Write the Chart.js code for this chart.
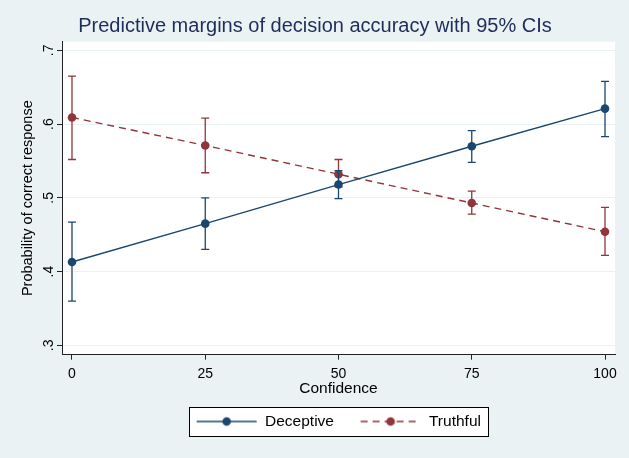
<!DOCTYPE html>
<html>
<head>
<meta charset="utf-8">
<title>Predictive margins of decision accuracy</title>
<script src="https://cdn.jsdelivr.net/npm/chart.js@4.4.1/dist/chart.umd.min.js"></script>
<style>
  html, body { margin: 0; padding: 0; background: #eaf2f3; }
  #wrap { width: 629px; height: 458px; }
</style>
</head>
<body>
<div id="wrap"><canvas id="chart" width="629" height="458"></canvas></div>
<script>
// Values
const confidence = [0, 25, 50, 75, 100];

const deceptive   = [0.413, 0.465, 0.518, 0.570, 0.621];
const deceptiveLo = [0.360, 0.430, 0.499, 0.548, 0.583];
const deceptiveHi = [0.467, 0.500, 0.537, 0.591, 0.658];

const truthful   = [0.609, 0.571, 0.532, 0.493, 0.454];
const truthfulLo = [0.552, 0.534, 0.515, 0.478, 0.422];
const truthfulHi = [0.665, 0.608, 0.552, 0.509, 0.487];

const seriesNames = ['Deceptive', 'Truthful'];
const xTicks = [0, 25, 50, 75, 100];
const yTicks = [0.3, 0.4, 0.5, 0.6, 0.7];

const NAVY = '#1a476f';
const MAROON = '#90353b';
const AXIS = '#222222';
const GRID = '#eaf2f3';
const FONT = "'Liberation Sans', Arial, Helvetica, sans-serif";

const ciLow = [deceptiveLo, truthfulLo];
const ciHigh = [deceptiveHi, truthfulHi];

Chart.defaults.font.family = FONT;
Chart.defaults.color = '#000';

// Legend key: line with a marker in the middle
function makeKey(color, dash) {
    const c = document.createElement('canvas');
    c.width = 64;
    c.height = 16;
    const g = c.getContext('2d');
    g.strokeStyle = color;
    g.lineWidth = 1.4;
    g.setLineDash(dash);
    g.beginPath();
    g.moveTo(2, 8);
    g.lineTo(62, 8);
    g.stroke();
    g.setLineDash([]);
    g.fillStyle = color;
    g.beginPath();
    g.arc(32, 8, 4.3, 0, Math.PI * 2);
    g.fill();
    return c;
}
const legendKeys = [makeKey(NAVY, []), makeKey(MAROON, [7, 5])];

// Fill plot region white and draw the legend frame
const backdrop = {
    id: 'backdrop',
    beforeDraw(chart) {
        const ctx = chart.ctx;
        const a = chart.chartArea;
        ctx.save();
        ctx.fillStyle = '#ffffff';
        ctx.fillRect(a.left, a.top, a.right - a.left, a.bottom - a.top);

        const hb = chart.legend.legendHitBoxes;
        if (hb && hb.length) {
            const last = hb[hb.length - 1];
            const l = Math.round(hb[0].left - 7) + 0.5;
            const r = Math.round(last.left + last.width + 7) + 0.5;
            const t = Math.round(hb[0].top - 7) + 0.5;
            const b = Math.round(hb[0].top + hb[0].height + 7) + 0.5;
            ctx.fillRect(l, t, r - l, b - t);
            ctx.strokeStyle = '#000';
            ctx.lineWidth = 1;
            ctx.strokeRect(l, t, r - l, b - t);
        }
        ctx.restore();
    }
};

// 95% CI whiskers, drawn under each series
const whiskers = {
    id: 'whiskers',
    beforeDatasetDraw(chart, args) {
        const i = args.index;
        const ds = chart.data.datasets[i];
        const xs = chart.scales.x;
        const ys = chart.scales.y;
        const ctx = chart.ctx;
        ctx.save();
        ctx.strokeStyle = ds.borderColor;
        ctx.lineWidth = 1.3;
        confidence.forEach((c, j) => {
            const px = xs.getPixelForValue(c);
            const lo = ys.getPixelForValue(ciLow[i][j]);
            const hi = ys.getPixelForValue(ciHigh[i][j]);
            ctx.beginPath();
            ctx.moveTo(px, lo);
            ctx.lineTo(px, hi);
            ctx.moveTo(px - 4, lo);
            ctx.lineTo(px + 4, lo);
            ctx.moveTo(px - 4, hi);
            ctx.lineTo(px + 4, hi);
            ctx.stroke();
        });
        ctx.restore();
    }
};

function toPoints(values) {
    return confidence.map((c, j) => ({ x: c, y: values[j] }));
}

new Chart(document.getElementById('chart'), {
    type: 'line',
    data: {
        datasets: [
            {
                label: seriesNames[0],
                data: toPoints(deceptive),
                borderColor: NAVY,
                backgroundColor: NAVY,
                borderWidth: 1.4,
                pointRadius: 4.3,
                pointBorderWidth: 0,
                pointBackgroundColor: NAVY,
                tension: 0
            },
            {
                label: seriesNames[1],
                data: toPoints(truthful),
                borderColor: MAROON,
                backgroundColor: MAROON,
                borderWidth: 1.4,
                borderDash: [7, 5],
                pointRadius: 4.3,
                pointBorderWidth: 0,
                pointBackgroundColor: MAROON,
                tension: 0
            }
        ]
    },
    options: {
        responsive: false,
        animation: false,
        events: [],
        layout: { padding: { top: 0, left: 15, right: 14, bottom: 18.75 } },
        scales: {
            x: {
                type: 'linear',
                min: -1.875,
                max: 101.875,
                afterBuildTicks: s => { s.ticks = xTicks.map(v => ({ value: v })); },
                afterFit: s => { s.height = 33.05; },
                grid: { drawOnChartArea: false, tickLength: 5, tickColor: AXIS, tickWidth: 1 },
                border: { color: AXIS, width: 1 },
                ticks: { font: { size: 14 }, color: '#000', padding: 6, maxRotation: 0 },
                title: {
                    display: true,
                    text: 'Confidence',
                    font: { size: 15.5 },
                    color: '#000',
                    padding: { top: 0, bottom: -10.55 }
                }
            },
            y: {
                min: 0.2873,
                max: 0.7117,
                afterBuildTicks: s => { s.ticks = yTicks.map(v => ({ value: v })); },
                afterFit: s => { s.width = 47; },
                grid: { color: GRID, lineWidth: 1, tickLength: 5, tickColor: AXIS, tickWidth: 1 },
                border: { color: AXIS, width: 1 },
                ticks: {
                    font: { size: 14 },
                    color: '#000',
                    padding: 2,
                    minRotation: 90,
                    maxRotation: 90,
                    crossAlign: 'center',
                    callback: v => v.toFixed(1).replace(/^0/, '')
                },
                title: {
                    display: true,
                    text: 'Probability of correct response',
                    font: { size: 14.5 },
                    color: '#000',
                    padding: { top: 4.3, bottom: 0 }
                }
            }
        },
        plugins: {
            title: {
                display: true,
                text: 'Predictive margins of decision accuracy with 95% CIs',
                color: '#1e2d5a',
                font: { size: 20, weight: 'normal' },
                padding: { top: 14.5, bottom: 3.2 }
            },
            legend: {
                position: 'bottom',
                fullSize: false,
                labels: {
                    usePointStyle: true,
                    pointStyleWidth: 61.25,
                    padding: 26,
                    font: { size: 15.5 },
                    color: '#000',
                    generateLabels: chart => {
                        const items = Chart.defaults.plugins.legend.labels.generateLabels(chart);
                        items.forEach((it, i) => { it.pointStyle = legendKeys[i]; });
                        return items;
                    }
                }
            },
            tooltip: { enabled: false }
        }
    },
    plugins: [backdrop, whiskers]
});
</script>
</body>
</html>
